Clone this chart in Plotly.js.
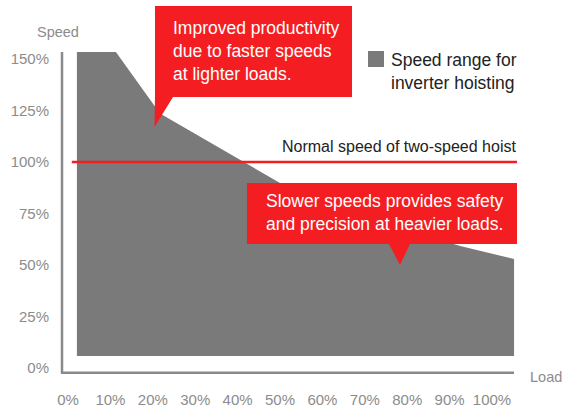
<!DOCTYPE html>
<html>
<head>
<meta charset="utf-8">
<script src="https://cdn.plot.ly/plotly-3.0.1.min.js"></script>
<style>html,body{margin:0;padding:0;background:#fff;}#chart{width:562px;height:412px;}</style>
</head>
<body>
<div id="chart"></div>
<script>
// ---- data ----
const loadPct   = [2.1, 11.3, 21.7, 50, 60, 70, 80, 92.5, 105.2];
const speedMax  = [153.4, 153.4, 123.5, 89.8, 81.5, 74, 67, 59.2, 52.9];
const speedMin  = [5.8, 5.8, 5.8, 5.8, 5.8, 5.8, 5.8, 5.8, 5.8];
const normalLoad  = [0.9, 105.9];
const normalSpeed = [100, 100];
const xTickVals = [0, 10, 20, 30, 40, 50, 60, 70, 80, 90, 100];
const xTickText = ["0%", "10%", "20%", "30%", "40%", "50%", "60%", "70%", "80%", "90%", "100%"];
const yTickVals = [0, 25, 50, 75, 100, 125, 150];
const yTickText = ["0%", "25%", "50%", "75%", "100%", "125%", "150%"];

const W = 562, H = 412, M = {l: 60, r: 42, t: 40, b: 32};
const PW = W - M.l - M.r, PH = H - M.t - M.b;
const px = x => (x - M.l) / PW;          // pixel -> paper x
const py = y => (H - M.b - y) / PH;      // pixel -> paper y
const path = pts => pts.map((p, i) => (i ? 'L' : 'M') + px(p[0]).toFixed(4) + ',' + py(p[1]).toFixed(4)).join(' ') + ' Z';

const GRAY = '#7a7a7a', RED = '#f41e22', AXIS = '#8a8a8a', TICK = '#8c8c8c', DARK = '#222222';
const FONT = '"Liberation Sans", Arial, sans-serif';

const traces = [
  {x: loadPct, y: speedMin, mode: 'lines', line: {width: 0, color: GRAY}, hoverinfo: 'skip', showlegend: false},
  {x: loadPct, y: speedMax, mode: 'lines', fill: 'tonexty', fillcolor: GRAY, line: {width: 0, color: GRAY},
   name: 'Speed range for inverter hoisting', showlegend: false},
  {x: normalLoad, y: normalSpeed, mode: 'lines', line: {color: RED, width: 2.5}, name: 'Normal speed of two-speed hoist', showlegend: false}
];

const layout = {
  width: W, height: H, margin: M,
  paper_bgcolor: '#fff', plot_bgcolor: '#fff',
  font: {family: FONT},
  showlegend: false,
  xaxis: {range: [-1.887, 106.6], tickvals: xTickVals, ticktext: xTickText, showgrid: false, zeroline: false,
          showline: false, ticks: '', ticklabelstandoff: 9, tickfont: {size: 15, color: TICK, family: FONT}},
  yaxis: {range: [-5.83, 159.2], tickvals: yTickVals, ticktext: yTickText, showgrid: false, zeroline: false,
          showline: false, ticks: '', ticklabelstandoff: 10, tickfont: {size: 15, color: TICK, family: FONT}},
  shapes: [
    {type: 'line', xref: 'paper', yref: 'paper', x0: px(62), x1: px(62), y0: py(52), y1: py(373.5), line: {color: AXIS, width: 2.5}},
    {type: 'line', xref: 'paper', yref: 'paper', x0: px(61), x1: px(514), y0: py(372.7), y1: py(372.7), line: {color: AXIS, width: 2.5}},
    {type: 'path', xref: 'paper', yref: 'paper', layer: 'above', fillcolor: RED, line: {width: 0},
     path: path([[155, 6], [352, 6], [352, 97], [173, 97], [154.5, 127], [155, 97]])},
    {type: 'path', xref: 'paper', yref: 'paper', layer: 'above', fillcolor: RED, line: {width: 0},
     path: path([[247, 183], [517, 183], [517, 244], [410, 244], [400, 265], [389, 244], [247, 244]])},
    {type: 'rect', xref: 'paper', yref: 'paper', x0: px(368), x1: px(384), y0: py(51), y1: py(67), fillcolor: GRAY, line: {width: 0}}
  ],
  annotations: [
    {xref: 'paper', yref: 'paper', x: px(57.5), y: py(32), xanchor: 'center', yanchor: 'middle', showarrow: false,
     text: 'Speed', font: {size: 14.5, color: TICK}},
    {xref: 'paper', yref: 'paper', x: px(528), y: py(377), xanchor: 'left', yanchor: 'middle', showarrow: false,
     text: 'Load', font: {size: 14.5, color: TICK}},
    {xref: 'paper', yref: 'paper', x: px(518), y: py(146), xanchor: 'right', yanchor: 'middle', showarrow: false,
     text: 'Normal speed of two-speed hoist', font: {size: 16, color: DARK}},
    {xref: 'paper', yref: 'paper', x: px(389), y: py(71), xanchor: 'left', yanchor: 'middle', align: 'left', showarrow: false,
     text: 'Speed range for<br>inverter hoisting', font: {size: 17.5, color: DARK}},
    {xref: 'paper', yref: 'paper', x: px(171), y: py(51), xanchor: 'left', yanchor: 'middle', align: 'left', showarrow: false,
     text: 'Improved productivity<br>due to faster speeds<br>at lighter loads.', font: {size: 17.5, color: '#ffffff'}},
    {xref: 'paper', yref: 'paper', x: px(264), y: py(212.5), xanchor: 'left', yanchor: 'middle', align: 'left', showarrow: false,
     text: 'Slower speeds provides safety<br>and precision at heavier loads.', font: {size: 17.5, color: '#ffffff'}}
  ]
};

Plotly.newPlot('chart', traces, layout, {displayModeBar: false, staticPlot: true});
</script>
</body>
</html>
